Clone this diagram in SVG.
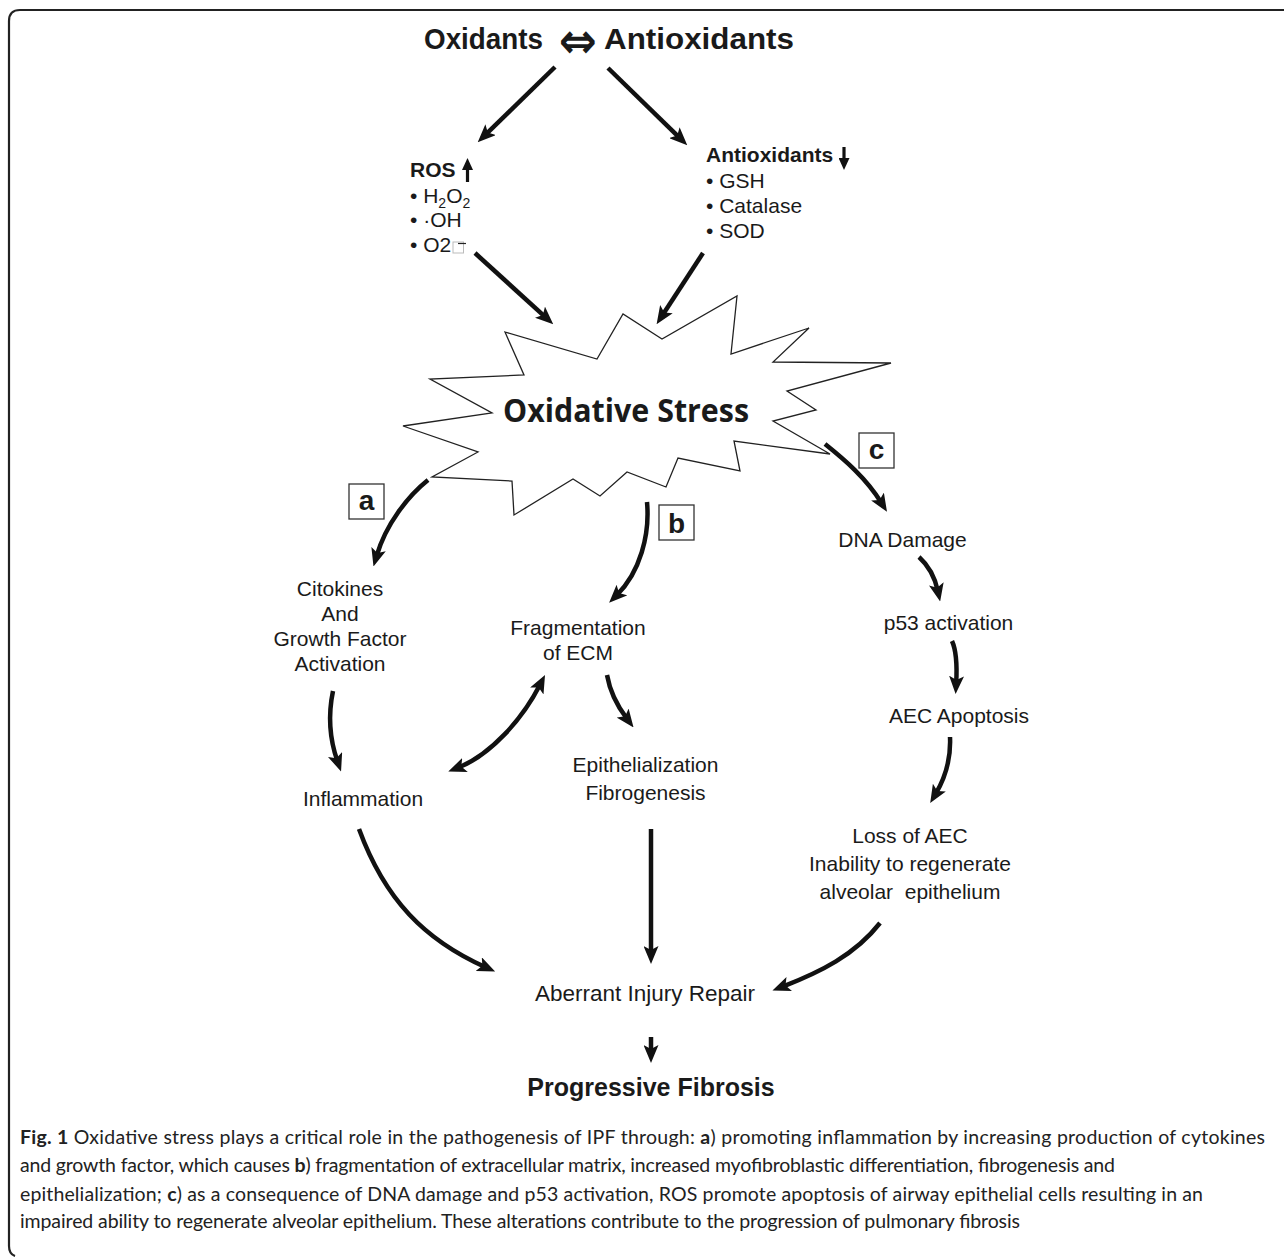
<svg xmlns="http://www.w3.org/2000/svg" width="1284" height="1257" viewBox="0 0 1284 1257">
<style>
.t{font-family:"Liberation Sans",Arial,sans-serif;font-size:21px;fill:#1a1a1a}
.b{font-weight:bold}
.c{text-anchor:middle}
.ttl{font-size:29.5px}
.lt{font-size:28px}
.cap{font-family:Lato,"Open Sans",sans-serif;font-size:19.5px;fill:#222}
.con{fill:none;stroke:#111;stroke-width:4.5;marker-end:url(#ah)}
.lbl{fill:#fff;stroke:#333;stroke-width:1.3}
</style>
<defs>
<marker id="ah" viewBox="0 0 18 15" refX="7" refY="7.5" markerWidth="18" markerHeight="15" markerUnits="userSpaceOnUse" orient="auto-start-reverse">
<path d="M0,0 L18,7.5 L0,15 L4,7.5 Z" fill="#111"/>
</marker>
<marker id="sm" viewBox="0 0 12 11" refX="4" refY="5.5" markerWidth="12" markerHeight="11" markerUnits="userSpaceOnUse" orient="auto">
<path d="M0,0 L12,5.5 L0,11 Z" fill="#111"/>
</marker>
</defs>
<rect width="1284" height="1257" fill="#fff"/>
<path d="M1284 10 H20 Q9 10 9 21 V1246 Q9 1254 15 1256" fill="none" stroke="#222" stroke-width="2.2"/>

<g id="title">
<text class="t b ttl" x="424" y="49" textLength="119" lengthAdjust="spacingAndGlyphs">Oxidants</text>
<text x="559" y="58" font-family="DejaVu Sans,sans-serif" font-weight="bold" font-size="50" textLength="38" lengthAdjust="spacingAndGlyphs" fill="#1a1a1a">⇔</text>
<text class="t b ttl" x="604" y="49" textLength="190" lengthAdjust="spacingAndGlyphs">Antioxidants</text>
</g>

<g id="ros">
<text class="t b" x="410" y="177">ROS</text>
<line x1="467.5" y1="182" x2="467.5" y2="166" stroke="#111" stroke-width="3.2" marker-end="url(#sm)"/>
<text class="t" x="410" y="203">• H<tspan style="font-size:14px" dy="5">2</tspan><tspan dy="-5">O</tspan><tspan style="font-size:14px" dy="5">2</tspan></text>
<text class="t" x="410" y="227">• ·OH</text>
<text class="t" x="410" y="252">• O2</text>
<rect x="453" y="242" width="10.5" height="11" fill="none" stroke="#bbb" stroke-width="1"/>
<line x1="458" y1="243.5" x2="466" y2="243.5" stroke="#222" stroke-width="1.2"/>
</g>

<g id="antioxidants">
<text class="t b" x="706" y="162">Antioxidants</text>
<line x1="844" y1="147" x2="844" y2="162" stroke="#111" stroke-width="3.2" marker-end="url(#sm)"/>
<text class="t" x="706" y="188">• GSH</text>
<text class="t" x="706" y="213">• Catalase</text>
<text class="t" x="706" y="238">• SOD</text>
</g>

<g id="oxidative-stress">
<polygon points="505,332 597,359 623,314 662,339 737,296 731,354 809,328 773,362 891,363 787,391 816,410 773,421 830,454 734,441 740,471 678,458 666,487 627,472 600,496 573,479 514,515 512,481 432,477 478,452 403,426 492,413 430,379 524,375" fill="#fff" stroke="#222" stroke-width="1.3" stroke-linejoin="miter"/>
<text x="626" y="422" font-family="'Open Sans','Noto Sans',sans-serif" font-weight="bold" font-size="32" text-anchor="middle" textLength="246" lengthAdjust="spacingAndGlyphs" fill="#1a1a1a">Oxidative Stress</text>
</g>

<g id="label-a">
<rect class="lbl" x="349" y="484" width="35" height="35"/>
<text class="t b c lt" x="366.5" y="510">a</text>
</g>
<g id="label-b">
<rect class="lbl" x="659" y="505" width="35" height="35"/>
<text class="t b c lt" x="676.5" y="532.5">b</text>
</g>
<g id="label-c">
<rect class="lbl" x="859" y="433" width="35" height="35"/>
<text class="t b c lt" x="876.5" y="459">c</text>
</g>

<g id="cytokines">
<text class="t c" x="340" y="596">Citokines</text>
<text class="t c" x="340" y="621">And</text>
<text class="t c" x="340" y="646">Growth Factor</text>
<text class="t c" x="340" y="671">Activation</text>
</g>
<g id="fragmentation">
<text class="t c" x="578" y="635">Fragmentation</text>
<text class="t c" x="578" y="660">of ECM</text>
</g>
<g id="inflammation">
<text class="t c" x="363" y="806">Inflammation</text>
</g>
<g id="epithelialization">
<text class="t c" x="645.5" y="772">Epithelialization</text>
<text class="t c" x="645.5" y="800">Fibrogenesis</text>
</g>
<g id="dna-damage">
<text class="t c" x="902.5" y="547">DNA Damage</text>
</g>
<g id="p53">
<text class="t c" x="948.5" y="630">p53 activation</text>
</g>
<g id="aec-apoptosis">
<text class="t c" x="959" y="723">AEC Apoptosis</text>
</g>
<g id="loss-aec">
<text class="t c" x="910" y="843">Loss of AEC</text>
<text class="t c" x="910" y="871">Inability to regenerate</text>
<text class="t c" x="910" y="899" xml:space="preserve">alveolar  epithelium</text>
</g>
<g id="aberrant">
<text class="t c" x="645" y="1001" style="font-size:22.5px">Aberrant Injury Repair</text>
</g>
<g id="fibrosis">
<text class="t b c" x="651" y="1096" style="font-size:25px">Progressive Fibrosis</text>
</g>

<g id="connectors">
<path class="con" stroke-width="4" d="M555 67 L485.6 134.6"/>
<path class="con" stroke-width="4" d="M608 68 L679.4 137.6"/>
<path class="con" stroke-width="4" d="M475 253 L545.1 316.9"/>
<path class="con" stroke-width="4" d="M703 253 L662.6 315"/>
<path class="con" d="M428 480 C408 496 386 524 376.6 555.9"/>
<path class="con" d="M647 502 C650 535 640 572 616.9 595"/>
<path class="con" d="M825 444 C845 460 866 478 881.2 502.5"/>
<path class="con" d="M919 557 C929 566 935 578 937.8 590.8"/>
<path class="con" d="M952 641 C957 652 957 668 956.2 683"/>
<path class="con" d="M950 737 C951 758 945 778 935.8 793.6"/>
<path class="con" d="M333 691 C328 715 330 740 337.4 761.1"/>
<path class="con" style="marker-start:url(#ah)" d="M458.5 767.5 C490 755 522 720 540 684.8"/>
<path class="con" d="M607 675 C610 692 618 707 626.9 718.7"/>
<path class="con" d="M359 829 C385 900 425 940 485.1 967"/>
<path class="con" d="M651 829 L651 953"/>
<path class="con" d="M880 923 C855 955 820 972 782.7 986.6"/>
<path class="con" d="M651 1037 L651 1052"/>
</g>

<g id="caption">
<text class="cap" x="20" y="1144" textLength="1245" lengthAdjust="spacing"><tspan font-weight="bold">Fig. 1</tspan> Oxidative stress plays a critical role in the pathogenesis of IPF through: <tspan font-weight="bold">a</tspan>) promoting inflammation by increasing production of cytokines</text>
<text class="cap" x="20" y="1172" textLength="1095" lengthAdjust="spacing">and growth factor, which causes <tspan font-weight="bold">b</tspan>) fragmentation of extracellular matrix, increased myofibroblastic differentiation, fibrogenesis and</text>
<text class="cap" x="20" y="1201" textLength="1183" lengthAdjust="spacing">epithelialization; <tspan font-weight="bold">c</tspan>) as a consequence of DNA damage and p53 activation, ROS promote apoptosis of airway epithelial cells resulting in an</text>
<text class="cap" x="20" y="1228" textLength="1000" lengthAdjust="spacing">impaired ability to regenerate alveolar epithelium. These alterations contribute to the progression of pulmonary fibrosis</text>
</g>
</svg>
